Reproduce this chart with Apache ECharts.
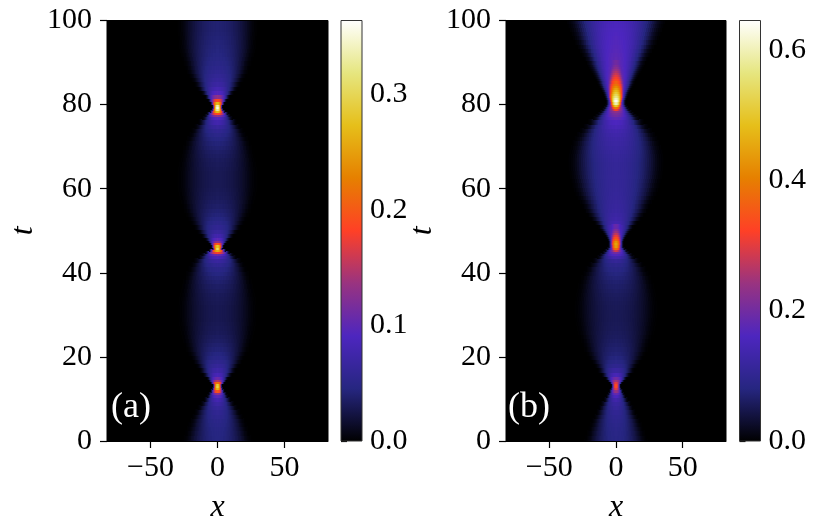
<!DOCTYPE html>
<html>
<head>
<meta charset="utf-8">
<script src="https://cdn.jsdelivr.net/npm/echarts@6/dist/echarts.min.js"></script>
<style>
html, body { margin: 0; padding: 0; background: #fff; }
#chart { width: 830px; height: 519px; }
</style>
</head>
<body>
<div id="chart"></div>
<script>
// panel (a): sample times, value on the centre line, half-width of the bright lens (in x)
const tA = [0,1,2,3,4,5,6,7,8,9,10,11,11.5,12,12.5,13,13.5,14,14.5,15,16,17,18,19,20,21,22,23,24,25,26,27,28,29,30,31,32,33,34,35,36,37,38,39,40,41,42,43,44,44.5,45,45.5,46,46.5,47,47.5,48,49,50,51,52,53,54,55,56,57,58,59,60,61,62,63,64,65,66,67,68,69,70,71,72,73,74,75,76,77,77.5,78,78.5,79,79.5,80,80.5,81,82,83,84,85,86,87,88,89,90,91,92,93,94,95,96,97,98,99,100];
const lensA = [.045,.046,.047,.048,.050,.052,.055,.058,.063,.070,.080,.100,.130,.200,.270,.300,.290,.220,.150,.110,.085,.072,.063,.056,.050,.046,.042,.039,.036,.034,.032,.031,.030,.029,.029,.029,.029,.030,.031,.032,.034,.036,.039,.042,.046,.051,.058,.068,.085,.110,.180,.260,.310,.280,.200,.130,.100,.078,.066,.058,.052,.047,.043,.040,.037,.035,.033,.032,.031,.030,.030,.030,.030,.031,.032,.033,.035,.037,.040,.043,.047,.052,.058,.066,.078,.095,.130,.190,.270,.330,.360,.340,.270,.190,.130,.095,.080,.070,.064,.060,.056,.053,.050,.048,.046,.045,.044,.043,.042,.041,.040,.040,.040];
const widthA = [23,22,21,20,19,18,16.5,15,13,11,9,7,6,4.5,3.5,3,3,4.5,5.8,7,9.5,12,14,16,17.5,19,20.5,21.5,22.5,23.3,24,24.5,25,25.3,25.5,25.5,25.5,25.3,25,24.5,24,23.3,22.5,21.5,20.5,19,17.5,15.5,12.5,10.5,8,5.5,3.2,4,5,6.5,8,10.5,13,15.5,17.5,19,20.5,21.8,23,24,24.7,25.3,25.7,26,26,26,26,25.7,25.3,24.8,24.2,23.5,22.5,21.5,20,18.5,17,15,12.5,10,8.5,7,5,3.8,3.2,3.3,4.5,6,8,10.5,13,15,17,18.5,20,21,22,23,23.8,24.5,25,25.3,25.6,25.8,26,26,26];

// panel (b)
const tB = [0,1,2,3,4,5,6,7,8,9,10,11,11.5,12,12.5,13,13.5,14,14.5,15,16,17,18,19,20,21,22,23,24,25,26,27,28,29,30,31,32,33,34,35,36,37,38,39,40,41,42,43,44,44.5,45,45.5,46,46.5,47,47.5,48,48.5,49,49.5,50,50.5,51,52,53,54,55,56,57,58,59,60,61,62,63,64,65,66,67,68,69,70,71,72,73,74,75,76,77,77.5,78,78.5,79,79.5,80,80.5,81,81.5,82,82.5,83,83.5,84,84.5,85,85.5,86,86.5,87,87.5,88,88.5,89,89.5,90,91,92,93,94,95,96,97,98,99,100];
const lensB = [.085,.086,.088,.090,.093,.096,.100,.105,.112,.120,.135,.160,.190,.240,.300,.340,.340,.300,.250,.200,.150,.120,.100,.088,.080,.074,.070,.066,.063,.060,.058,.056,.055,.054,.054,.054,.055,.056,.058,.060,.063,.066,.070,.075,.080,.087,.095,.110,.140,.170,.200,.240,.260,.270,.270,.260,.240,.225,.210,.195,.180,.170,.160,.140,.130,.125,.120,.117,.115,.113,.112,.111,.110,.110,.110,.110,.110,.110,.112,.114,.117,.120,.124,.128,.133,.140,.150,.160,.180,.200,.210,.230,.260,.280,.300,.300,.300,.290,.280,.270,.260,.250,.240,.230,.220,.215,.210,.205,.200,.195,.190,.187,.185,.182,.180,.178,.175,.172,.170,.168,.165,.163,.160,.158,.155];
const widthB = [21,20,19,18,17,16,14.5,13,11.5,10,8,6.5,5.5,4.5,3.5,3,3,4,5.5,7,9.5,12,14,16,18,19.5,21,22,23,24,25,25.7,26.3,26.7,27,27.2,27.2,27,26.7,26.3,25.7,25,24,23,21.5,20,18,15.5,12.5,11,9,7.5,6,5,5,5,5.5,6.2,7,8,9,10.2,11.5,14,16.5,18.5,20.5,22,23.5,25,26.5,27.5,28.5,29.3,30,30.5,30.8,31,31,30.8,30.3,29.5,28.5,27,25.5,23.5,21,18,15,13.5,12,10.5,9,8,7,6.5,6.5,7,7.5,8,8.5,9.2,10,10.8,11.5,12.2,13,13.8,14.5,15.2,16,16.8,17.5,18.2,19,20.5,22,23.5,25,26.5,28,29,30,31,32];
// bright streak above the foci of panel (b), added on top of the lens
const coreTB = [45.5,46,46.5,47,47.5,48,48.5,49,49.5,50,50.5,51,79,79.5,80,80.5,81,81.5,82,82.5,83,83.5,84,84.5,85,85.5,86,86.5,87,87.5,88,88.5,89,89.5,90];
const coreB = [.05,.12,.17,.18,.17,.14,.12,.10,.08,.06,.045,.03,.06,.12,.20,.30,.34,.32,.29,.27,.25,.23,.21,.19,.17,.15,.13,.115,.10,.085,.07,.055,.04,.03,.02];
const coreWidthB = [2.5,3,3.5,4,4,4,3.8,3.5,3.2,3,3,3,2.5,3,3.5,4,4.5,5,5.5,5.5,5.5,5.5,5.5,5.5,5.5,5.2,5,4.8,4.5,4.2,4,3.8,3.5,3.2,3];

// cross-section of the lens: share of the centre value against |x| / half-width
const shapeU = [0,.05,.1,.15,.2,.25,.3,.35,.4,.45,.5,.55,.6,.65,.7,.75,.8,.85,.9,.95,1,1.05,1.1];
const shapeS = [1,.99,.98,.97,.95,.93,.9,.87,.83,.79,.74,.69,.63,.57,.5,.43,.36,.28,.2,.13,.08,.045,.02];

const xTicks = [-50, 0, 50];
const barTicksA = [0, 0.1, 0.2, 0.3];
const barTicksB = [0, 0.2, 0.4, 0.6];
const maxA = 0.364, maxB = 0.645;

const cmr = ['#000000','#262680','#4d26bf','#993380','#ff4026','#e68000','#e6bf1a','#e6e680','#ffffff'];
const font = 'Liberation Serif';

function rowBand(ts, k) {
    const lo = k === 0 ? ts[0] : (ts[k - 1] + ts[k]) / 2;
    const hi = k === ts.length - 1 ? ts[k] : (ts[k] + ts[k + 1]) / 2;
    return [lo, hi];
}
function outerU(i) {
    return i + 1 < shapeU.length ? shapeU[i + 1] : shapeU[i] + 0.05;
}
function buildCells(ts, lens, widths) {
    const cells = [];
    ts.forEach((t, k) => {
        const [lo, hi] = rowBand(ts, k);
        // widest band first so the narrower ones sit on top
        for (let i = shapeU.length - 1; i >= 0; i--) {
            cells.push([outerU(i) * widths[k], lo, hi, lens[k] * shapeS[i]]);
        }
    });
    return cells;
}
function buildCore(ts, lens, widths, cT, cV, cW) {
    const cells = [];
    cT.forEach((t, j) => {
        const k = ts.indexOf(t);
        const [lo, hi] = rowBand(ts, k);
        for (let i = shapeU.length - 1; i >= 0; i--) {
            const mid = (shapeU[i] + outerU(i)) / 2 * cW[j];
            const li = Math.min(shapeU.length - 1, Math.floor(mid / widths[k] / 0.05));
            cells.push([outerU(i) * cW[j], lo, hi, lens[k] * shapeS[li] + cV[j] * shapeS[i]]);
        }
    });
    return cells;
}

const cellsA = buildCells(tA, lensA, widthA);
const cellsB = buildCells(tB, lensB, widthB);
const coreCellsB = buildCore(tB, lensB, widthB, coreTB, coreB, coreWidthB);

function renderCell(params, api) {
    const half = api.value(0);
    const p0 = api.coord([-half, api.value(2)]);
    const p1 = api.coord([half, api.value(1)]);
    const cs = params.coordSys;
    // rows are drawn bottom-up; each one reaches one pixel down so no seam is left
    const y0 = Math.round(p0[1]), y1 = Math.round(p1[1]) + 1;
    const rect = echarts.graphic.clipRectByRect(
        { x: p0[0], y: y0, width: p1[0] - p0[0], height: y1 - y0 },
        { x: cs.x, y: cs.y, width: cs.width, height: cs.height }
    );
    if (!rect) return null;
    return { type: 'rect', shape: rect, style: { fill: api.visual('color') } };
}
function renderBar(params, api) {
    const a = api.coord([0, 0]);
    const b = api.coord([1, api.value(1)]);
    const stops = cmr.map((c, i) => ({ offset: i / (cmr.length - 1), color: c }));
    return {
        type: 'rect',
        shape: { x: a[0], y: b[1], width: b[0] - a[0], height: a[1] - b[1] },
        style: { fill: new echarts.graphic.LinearGradient(0, 1, 0, 0, stops), stroke: '#333', lineWidth: 1 }
    };
}

const tickLabel = { color: '#000', fontSize: 30, fontFamily: font };
const minus = v => (v < 0 ? '\u2212' + Math.abs(v) : String(v));

function heatX(idx) {
    return {
        gridIndex: idx, type: 'value', min: -82.5, max: 82.5,
        name: 'x', nameLocation: 'middle', nameGap: 51,
        nameTextStyle: { color: '#000', fontSize: 32, fontFamily: font, fontStyle: 'italic' },
        axisLine: { show: true, onZero: false, lineStyle: { color: '#000', width: 1 } },
        axisTick: { show: true, length: 7, customValues: xTicks, lineStyle: { color: '#000', width: 1.2 } },
        axisLabel: Object.assign({ margin: 12, customValues: xTicks, formatter: minus }, tickLabel),
        splitLine: { show: false }
    };
}
function heatY(idx) {
    return {
        gridIndex: idx, type: 'value', min: 0, max: 100, interval: 20,
        name: 't', nameLocation: 'middle', nameGap: 67,
        nameTextStyle: { color: '#000', fontSize: 32, fontFamily: font, fontStyle: 'italic' },
        axisLine: { show: true, onZero: false, lineStyle: { color: '#000', width: 1 } },
        axisTick: { show: true, length: 7, lineStyle: { color: '#000', width: 1.2 } },
        axisLabel: Object.assign({ margin: 15 }, tickLabel),
        splitLine: { show: false }
    };
}
function barX(idx) {
    return { gridIndex: idx, type: 'value', min: 0, max: 1, show: false };
}
function barY(idx, max, ticks) {
    return {
        gridIndex: idx, type: 'value', min: 0, max: max, position: 'right',
        axisLine: { show: false },
        axisTick: { show: true, length: 6, customValues: ticks, lineStyle: { color: '#000', width: 1.2 } },
        axisLabel: Object.assign({ margin: 8, customValues: ticks, formatter: v => v.toFixed(1) }, tickLabel),
        splitLine: { show: false }
    };
}

const gridBase = { top: 20.5, height: 420.5, outerBoundsMode: 'none', containLabel: false };

const chart = echarts.init(document.getElementById('chart'));
chart.setOption({
    animation: false,
    backgroundColor: '#fff',
    textStyle: { fontFamily: font },
    grid: [
        Object.assign({ left: 107, width: 221, show: true, backgroundColor: '#000', borderColor: '#000', borderWidth: 1 }, gridBase),
        Object.assign({ left: 341, width: 21 }, gridBase),
        Object.assign({ left: 506, width: 220, show: true, backgroundColor: '#000', borderColor: '#000', borderWidth: 1 }, gridBase),
        Object.assign({ left: 739.5, width: 21 }, gridBase)
    ],
    xAxis: [heatX(0), barX(1), heatX(2), barX(3)],
    yAxis: [heatY(0), barY(1, maxA, barTicksA), heatY(2), barY(3, maxB, barTicksB)],
    visualMap: [
        { type: 'continuous', show: false, seriesIndex: 0, dimension: 3, min: 0, max: maxA, inRange: { color: cmr } },
        { type: 'continuous', show: false, seriesIndex: [2, 4], dimension: 3, min: 0, max: maxB, inRange: { color: cmr } }
    ],
    series: [
        { type: 'custom', xAxisIndex: 0, yAxisIndex: 0, data: cellsA, renderItem: renderCell, encode: { x: 0, y: 1 }, progressive: 0, silent: true },
        { type: 'custom', xAxisIndex: 1, yAxisIndex: 1, data: [[1, maxA]], renderItem: renderBar, silent: true },
        { type: 'custom', xAxisIndex: 2, yAxisIndex: 2, data: cellsB, renderItem: renderCell, encode: { x: 0, y: 1 }, progressive: 0, silent: true },
        { type: 'custom', xAxisIndex: 3, yAxisIndex: 3, data: [[1, maxB]], renderItem: renderBar, silent: true },
        { type: 'custom', xAxisIndex: 2, yAxisIndex: 2, data: coreCellsB, renderItem: renderCell, encode: { x: 0, y: 1 }, progressive: 0, silent: true, z: 3 }
    ],
    graphic: [
        { type: 'text', left: 111, top: 390, style: { text: '(a)', fill: '#fff', fontSize: 36, fontFamily: font } },
        { type: 'text', left: 508, top: 390, style: { text: '(b)', fill: '#fff', fontSize: 36, fontFamily: font } }
    ]
});
</script>
</body>
</html>
